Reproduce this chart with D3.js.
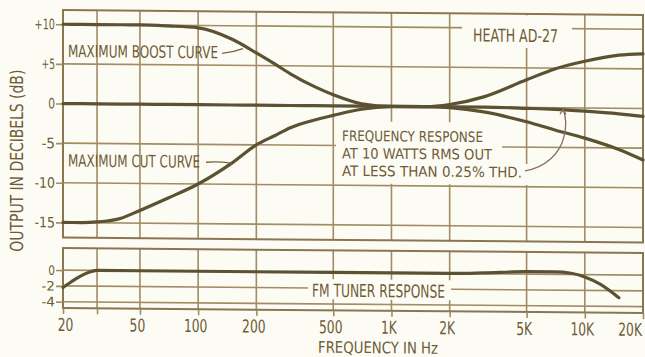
<!DOCTYPE html>
<html>
<head>
<meta charset="utf-8">
<script src="https://cdn.jsdelivr.net/npm/d3@7"></script>
<style>
  html, body { margin: 0; padding: 0; background: #fdfcf4; }
  svg { display: block; }
  text { font-family: "Liberation Sans Narrow", "DejaVu Sans Condensed", "Arial Narrow", "DejaVu Sans", sans-serif; font-stretch: condensed; fill: #6e5b37; }
</style>
</head>
<body>
<svg id="chart" width="645" height="357"></svg>
<script>
// Frequency grid (Hz) shared by the tone-control curves
const freqHz   = [20, 25, 30, 40, 50, 70, 100, 150, 200, 250, 300, 400, 500, 700, 1000, 1500, 2000, 3000, 5000, 7000, 10000, 15000, 20000];
// Maximum boost (bass + treble), dB
const boostDb  = [10, 10, 10, 10, 10, 9.9, 9.7, 8.3, 6.6, 5.2, 4.0, 2.4, 1.4, 0.3, 0.0, 0.0, 0.3, 1.3, 3.5, 4.9, 5.9, 6.7, 6.9];
// Maximum cut (bass + treble), dB
const cutDb    = [-15, -15, -14.9, -14.4, -13.4, -11.8, -10, -7.3, -5.0, -3.8, -2.8, -1.8, -1.2, -0.4, -0.05, 0, -0.1, -0.6, -1.8, -2.8, -3.8, -5.2, -6.5];
// Flat response at 10 W RMS, dB
const flatDb   = [0, 0, 0, 0, 0, 0, 0, 0, 0, 0, 0, 0, 0, 0, 0, 0, 0, 0, -0.1, -0.2, -0.4, -0.7, -1.0];

// FM tuner response
const fmFreqHz = [20, 22, 24, 26, 28, 30, 50, 100, 500, 1000, 2000, 3000, 5000, 7000, 8500, 10000, 12000, 15000];
const fmDb     = [-2.2, -1.5, -0.9, -0.45, -0.15, 0, 0, 0, 0, 0, 0, 0.1, 0.3, 0.3, 0.15, -0.3, -1.2, -2.9];

// Axes
const gridFreqs   = [20, 30, 50, 100, 200, 500, 1000, 2000, 5000, 10000, 20000];
const labelFreqs  = [20, 50, 100, 200, 500, 1000, 2000, 5000, 10000, 20000];
const freqLabels  = ["20", "50", "100", "200", "500", "1K", "2K", "5K", "10K", "20K"];
const topTicks    = [10, 5, 0, -5, -10, -15];
const topLabels   = ["+10", "+5", "0", "-5", "-10", "-15"];
const bottomTicks = [0, -2, -4];
const bottomLabels= ["0", "-2", "-4"];

const GRID = "#a08d63", BORDER = "#8a7650", CURVE = "#5b5232", INK = "#6e5b37";

const svg = d3.select("#chart");
svg.append("rect").attr("width", 645).attr("height", 357).attr("fill", "#fdfcf4");

// slight vertical shear of the printed plate
const k = 0.0086;
const g = svg.append("g").attr("transform", `matrix(1,${k},0,1,0,${-63 * k})`);

const x    = d3.scaleLog().domain([20, 20000]).range([63, 643]);
const yTop = d3.scaleLinear().domain([-16.9, 11.8]).range([237.5, 10]);
const yBot = d3.scaleLinear().domain([-4.8, 2.8]).range([308, 248]);

function panel(y, ticks) {
  const [y0, y1] = y.range();
  const p = g.append("g");
  p.selectAll("line.v").data(gridFreqs).join("line")
    .attr("x1", d => x(d)).attr("x2", d => x(d))
    .attr("y1", y1).attr("y2", y0)
    .attr("stroke", GRID).attr("stroke-width", 1.6);
  p.selectAll("line.h").data(ticks).join("line")
    .attr("x1", x.range()[0]).attr("x2", x.range()[1])
    .attr("y1", d => y(d)).attr("y2", d => y(d))
    .attr("stroke", GRID).attr("stroke-width", 1.6);
  p.append("rect")
    .attr("x", x.range()[0]).attr("y", y1)
    .attr("width", x.range()[1] - x.range()[0]).attr("height", y0 - y1)
    .attr("fill", "none").attr("stroke", BORDER).attr("stroke-width", 2);
  return p;
}
panel(yTop, topTicks);
panel(yBot, bottomTicks);

// y axes
function yAxis(y, ticks, labels, size) {
  const a = g.append("g").attr("transform", `translate(${x.range()[0]},0)`)
    .call(d3.axisLeft(y).tickValues(ticks).tickSize(7).tickPadding(1)
      .tickFormat((d, i) => labels[i]));
  a.select(".domain").remove();
  a.selectAll(".tick line").attr("stroke", GRID).attr("stroke-width", 1.6);
  a.selectAll(".tick text").attr("fill", INK).style("font-size", size + "px")
    .attr("font-family", null)
    .attr("textLength", (d, i) => labels[i].length * 6.8)
    .attr("lengthAdjust", "spacingAndGlyphs");
}
yAxis(yTop, topTicks, topLabels, 14.5);
yAxis(yBot, bottomTicks, bottomLabels, 13);

// x axis under the tuner panel (labels narrowed horizontally)
const sx = 0.76;
const xa = g.append("g").attr("transform", `translate(0,${yBot.range()[0]})`)
  .call(d3.axisBottom(x).tickValues(gridFreqs).tickSize(6)
    .tickFormat(d => { const i = labelFreqs.indexOf(d); return i < 0 ? "" : freqLabels[i]; }));
xa.select(".domain").remove();
xa.selectAll(".tick line").attr("stroke", GRID).attr("stroke-width", 1.6);
xa.selectAll(".tick text").attr("fill", INK).attr("font-family", null)
  .style("font-size", "18px").attr("y", 23).attr("dy", 0)
  .attr("x", d => (d === 20 ? 2 : (d === 20000 ? -1.5 : -3)) / sx)
  .attr("text-anchor", d => d === 20000 ? "end" : "middle")
  .attr("transform", `scale(${sx},1)`);

// label masks
const paper = "#fdfcf4";
g.append("rect").attr("x", 462).attr("y", 11.5).attr("width", 110).attr("height", 32.5).attr("fill", paper);
g.append("path").attr("d", "M336,119H502V160H528V181H336Z").attr("fill", paper);
g.append("rect").attr("x", 308).attr("y", 277).attr("width", 143).attr("height", 20).attr("fill", paper);

// curves
const line = (y) => d3.line().x(d => x(d[0])).y(d => y(d[1])).curve(d3.curveMonotoneX);
const series = [flatDb, cutDb, boostDb];
g.selectAll("path.curve").data(series).join("path")
  .attr("d", s => line(yTop)(freqHz.map((f, i) => [f, s[i]])))
  .attr("fill", "none").attr("stroke", CURVE).attr("stroke-width", 3.2)
  .attr("stroke-linecap", "round");
g.append("path")
  .attr("d", line(yBot)(fmFreqHz.map((f, i) => [f, fmDb[i]])))
  .attr("fill", "none").attr("stroke", CURVE).attr("stroke-width", 3.2)
  .attr("stroke-linecap", "round");

// annotations
function label(txt, x0, y0, len, size) {
  g.append("text").attr("x", x0).attr("y", y0).text(txt)
    .style("font-size", size + "px")
    .attr("textLength", len).attr("lengthAdjust", "spacingAndGlyphs");
}
label("MAXIMUM BOOST CURVE", 68, 57, 150, 17);
label("MAXIMUM CUT CURVE", 68, 166.5, 132, 17);
label("HEATH AD-27", 473, 38, 85, 18);
label("FREQUENCY RESPONSE", 342, 138.5, 141, 14.5);
label("AT 10 WATTS RMS OUT", 342, 156, 150, 14.5);
label("AT LESS THAN 0.25% THD.", 342, 173.5, 180, 14.5);
label("FM TUNER RESPONSE", 312, 294.5, 133, 18);
label("FREQUENCY IN Hz", 318, 350.5, 120, 16);

const leader = (d, c) => g.append("path").attr("d", d).attr("fill", "none")
  .attr("stroke", c || "#75633f").attr("stroke-width", 1.3);
leader("M222,52 Q232,51 243,47");
leader("M206,161 Q220,160 232,162");
leader("M525,167 C545,163 560,150 564,132 C567,120 566,112 563,105", "#8a6a5e");
leader("M560,110 L563,105 L566,110", "#8a6a5e");

// y axis title
g.append("text")
  .attr("transform", "translate(22.5,161) rotate(-90)")
  .attr("text-anchor", "middle")
  .style("font-size", "18px")
  .attr("textLength", 182).attr("lengthAdjust", "spacingAndGlyphs")
  .text("OUTPUT IN DECIBELS (dB)");
</script>
</body>
</html>
